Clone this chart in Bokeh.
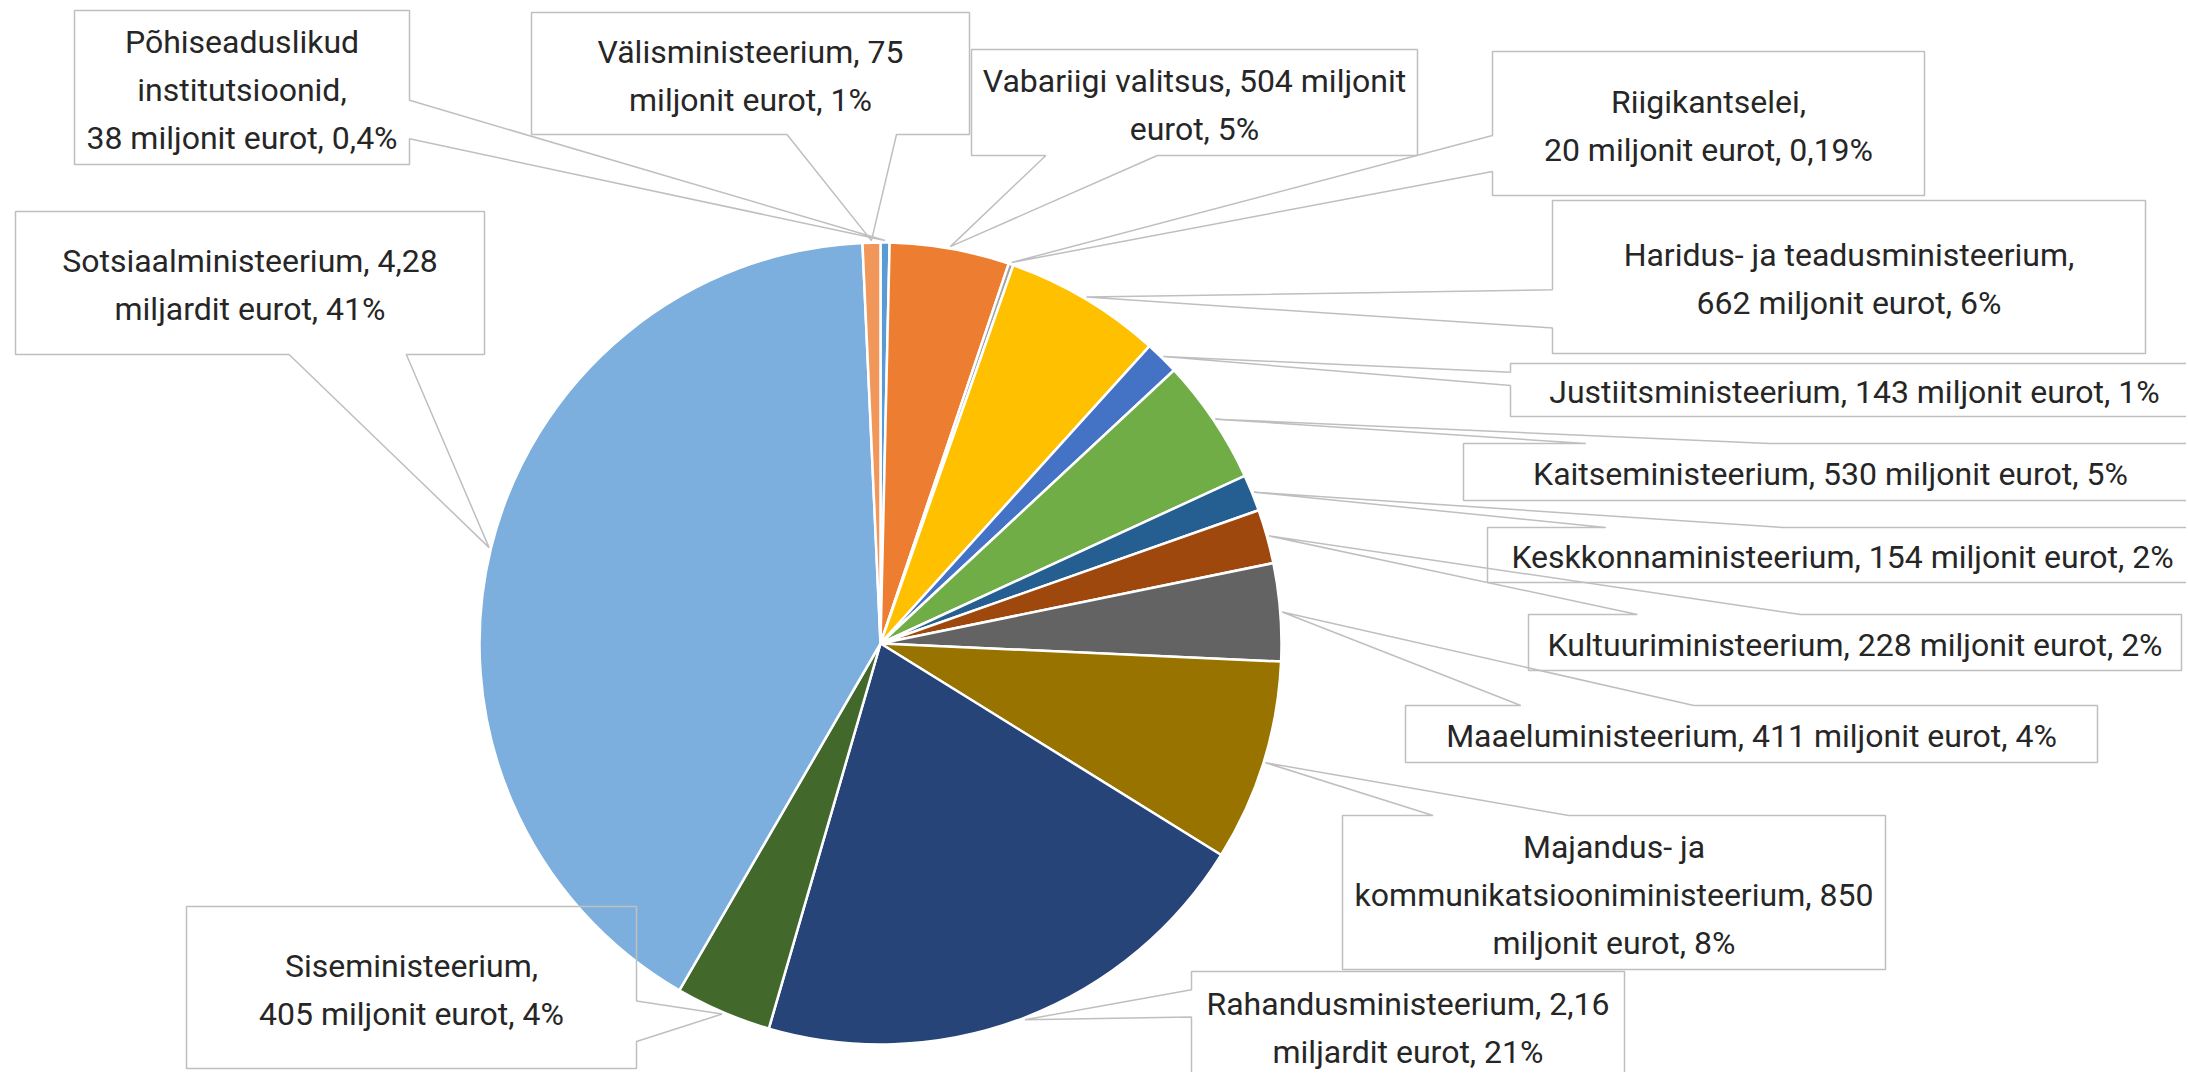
import math
from bokeh.plotting import figure
from bokeh.models import Range1d, ColumnDataSource
from bokeh.core.properties import value
from bokeh.embed import file_html
from bokeh.resources import INLINE

# ---------------- data ----------------
names = [
    "Põhiseaduslikud institutsioonid", "Vabariigi valitsus", "Riigikantselei",
    "Haridus- ja teadusministeerium", "Justiitsministeerium", "Kaitseministeerium",
    "Keskkonnaministeerium", "Kultuuriministeerium", "Maaeluministeerium",
    "Majandus- ja kommunikatsiooniministeerium", "Rahandusministeerium",
    "Siseministeerium", "Sotsiaalministeerium", "Välisministeerium",
]
values = [38, 504, 20, 662, 143, 530, 154, 228, 411, 850, 2160, 405, 4280, 75]  # miljonit eurot
label_lines = [
    ["Põhiseaduslikud", "institutsioonid,", "38 miljonit eurot, 0,4%"],
    ["Vabariigi valitsus, 504 miljonit", "eurot, 5%"],
    ["Riigikantselei,", "20 miljonit eurot, 0,19%"],
    ["Haridus- ja teadusministeerium,", "662 miljonit eurot, 6%"],
    ["Justiitsministeerium, 143 miljonit eurot, 1%"],
    ["Kaitseministeerium, 530 miljonit eurot, 5%"],
    ["Keskkonnaministeerium, 154 miljonit eurot, 2%"],
    ["Kultuuriministeerium, 228 miljonit eurot, 2%"],
    ["Maaeluministeerium, 411 miljonit eurot, 4%"],
    ["Majandus- ja", "kommunikatsiooniministeerium, 850", "miljonit eurot, 8%"],
    ["Rahandusministeerium, 2,16", "miljardit eurot, 21%"],
    ["Siseministeerium,", "405 miljonit eurot, 4%"],
    ["Sotsiaalministeerium, 4,28", "miljardit eurot, 41%"],
    ["Välisministeerium, 75", "miljonit eurot, 1%"],
]

# ---------------- style / layout ----------------
colors = ["#5B9BD5", "#ED7D31", "#A5A5A5", "#FFC000", "#4472C4", "#70AD47",
          "#255E91", "#9E480E", "#636363", "#997300", "#264478", "#43682B",
          "#7CAFDD", "#F1975A"]
# callout boxes (left, top, right, bottom) in page pixels
boxes = [
    (74, 10, 409, 164), (971, 49, 1417, 155), (1492, 51, 1924, 195),
    (1552, 200, 2145, 353), (1510, 363, 2198, 416), (1463, 443, 2197, 500),
    (1487, 527, 2197, 582), (1528, 614, 2181, 670), (1405, 705, 2097, 762),
    (1342, 815, 1885, 969), (1191, 971, 1624, 1080), (186, 906, 636, 1068),
    (15, 211, 484, 354), (531, 12, 969, 134),
]
PAGE_H = 1074
CX, CY, R = 880, 643, 401
LINE_GAP = 48
FONT = "Roboto"
TEXT_COLOR = "#262626"
BOX_COLOR = "#BFBFBF"

W, H = 2186, 1072


def fy(Y):
    return PAGE_H - Y


p = figure(width=W, height=H, output_backend="svg", toolbar_location=None,
           x_range=Range1d(0, W), y_range=Range1d(fy(H), fy(0)),
           min_border=0, background_fill_color="white", border_fill_color="white")
p.axis.visible = False
p.grid.visible = False
p.outline_line_color = None

# ---------------- pie ----------------
total = float(sum(values))
cum = [0.0]
for v in values:
    cum.append(cum[-1] + v / total)
starts = [math.pi / 2 - 2 * math.pi * cum[i + 1] for i in range(len(values))]
ends = [math.pi / 2 - 2 * math.pi * cum[i] for i in range(len(values))]
src = ColumnDataSource(dict(start=starts, end=ends, color=colors, name=names, val=values))
p.wedge(x=CX, y=fy(CY), radius=R, start_angle="start", end_angle="end",
        direction="anticlock", fill_color="color", line_color="white",
        line_width=2.5, source=src)


# ---------------- callouts (Excel wedgeRectCallout geometry) ----------------
def callout(l, t, r, b, tx, ty):
    w = r - l
    h = b - t
    hc = (l + r) / 2.0
    vc = (t + b) / 2.0
    dx = tx - hc
    dy = ty - vc
    dq = dx * h / w
    dz = abs(dy) - abs(dq)
    xg1, xg2 = (7, 10) if dx > 0 else (2, 5)
    yg1, yg2 = (7, 10) if dy > 0 else (2, 5)
    x1 = l + w * xg1 / 12.0
    x2 = l + w * xg2 / 12.0
    y1 = t + h * yg1 / 12.0
    y2 = t + h * yg2 / 12.0
    pts = [(l, t)]
    if dz > 0 and dy < 0:
        pts += [(x1, t), (tx, ty), (x2, t)]
    pts += [(r, t)]
    if dz <= 0 and dx > 0:
        pts += [(r, y1), (tx, ty), (r, y2)]
    pts += [(r, b)]
    if dz > 0 and dy > 0:
        pts += [(x2, b), (tx, ty), (x1, b)]
    pts += [(l, b)]
    if dz <= 0 and dx < 0:
        pts += [(l, y2), (tx, ty), (l, y1)]
    return pts


xs_all, ys_all = [], []
tx_list, ty_list, txt_list = [], [], []
for i, lines in enumerate(label_lines):
    mid = (cum[i] + cum[i + 1]) / 2.0
    ang = 2 * math.pi * mid  # clockwise from 12 o'clock
    tipx = CX + (R + 2) * math.sin(ang)
    tipy = CY - (R + 2) * math.cos(ang)
    l, t, r, b = boxes[i]
    pts = callout(l, t, r, b, tipx, tipy)
    xs_all.append([q[0] for q in pts])
    ys_all.append([fy(q[1]) for q in pts])
    cyb = (t + b) / 2.0 + 2
    n = len(lines)
    for k, s in enumerate(lines):
        tx_list.append((l + r) / 2.0)
        ty_list.append(fy(cyb + (k - (n - 1) / 2.0) * LINE_GAP))
        txt_list.append(s)

p.patches(xs=xs_all, ys=ys_all, fill_color=None, line_color=BOX_COLOR, line_width=1.5)
p.text(x=tx_list, y=ty_list, text=txt_list, text_align="center", text_baseline="middle",
       text_font=value(FONT), text_font_size="32px", text_color=TEXT_COLOR)

open("out.html", "w").write(file_html(p, INLINE))
